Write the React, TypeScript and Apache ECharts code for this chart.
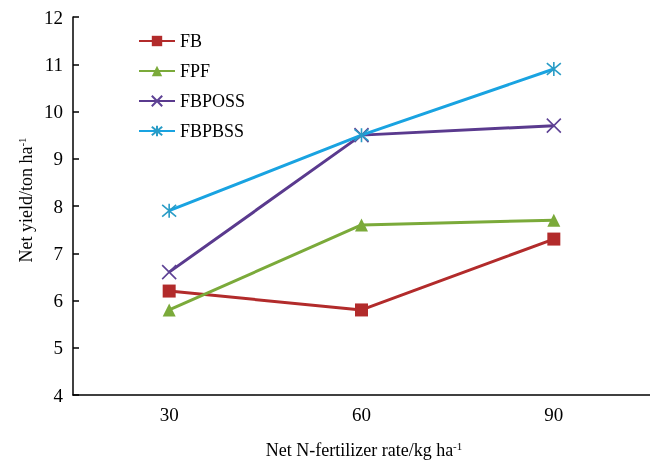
import React, { useEffect, useRef } from "react";
import * as echarts from "echarts";

const categories = ["30", "60", "90"];
const fb = [6.2, 5.8, 7.3];
const fpf = [5.8, 7.6, 7.7];
const fbposs = [6.6, 9.5, 9.7];
const fbpbss = [7.9, 9.5, 10.9];

const FONT = "'Liberation Serif', 'Times New Roman', Times, serif";
const X_SYM = "path://M0,0 L10,10 M10,0 L0,10";
const STAR_SYM = "path://M0,0 L10,10 M10,0 L0,10 M5,-1 L5,11";

export default function App() {
  const ref = useRef<HTMLDivElement>(null);
  useEffect(() => {
    if (!ref.current) return;
    document.body.style.margin = "0";
    document.body.style.overflow = "hidden";
    const chart = echarts.init(ref.current, undefined, { renderer: "svg" });
    const mk = (name: string, data: number[], color: string, symbol: string, size: number, markColor: string, stroke: boolean) => ({
      name,
      type: "line",
      data,
      symbol,
      symbolSize: size,
      showSymbol: true,
      lineStyle: { color, width: 3 },
      itemStyle: stroke
        ? { color: "rgba(0,0,0,0)", borderColor: markColor, borderWidth: 1.6 }
        : { color: markColor, borderWidth: 0 },
      emphasis: { disabled: true },
    });
    const rich = {
      a: { fontFamily: FONT, fontSize: 18, fill: "#000" },
      s: { fontFamily: FONT, fontSize: 11, fill: "#000", verticalAlign: "top", padding: [0, 0, 8, 0] },
    };
    chart.setOption({
      animation: false,
      textStyle: { fontFamily: FONT },
      grid: { left: 73, right: 0, top: 17, bottom: 66, containLabel: false },
      legend: {
        orient: "vertical",
        left: 133,
        top: 27,
        itemWidth: 36,
        itemHeight: 13,
        itemGap: 12,
        textStyle: { fontFamily: FONT, fontSize: 18, color: "#000" },
        data: ["FB", "FPF", "FBPOSS", "FBPBSS"],
      },
      xAxis: {
        type: "category",
        data: categories,
        boundaryGap: true,
        axisLine: { lineStyle: { color: "#000", width: 1.5 } },
        axisTick: { inside: true, alignWithLabel: true, length: 6, lineStyle: { color: "#000", width: 1.5 } },
        axisLabel: { fontFamily: FONT, fontSize: 19, color: "#000", margin: 10 },
        splitLine: { show: false },
      },
      yAxis: {
        type: "value",
        min: 4,
        max: 12,
        interval: 1,
        axisLine: { show: true, lineStyle: { color: "#000", width: 1.5 } },
        axisTick: { show: true, inside: true, length: 6, lineStyle: { color: "#000", width: 1.5 } },
        axisLabel: { fontFamily: FONT, fontSize: 19, color: "#000", margin: 10 },
        splitLine: { show: false },
      },
      graphic: [
        {
          type: "text",
          x: 26,
          y: 200,
          rotation: Math.PI / 2,
          style: {
            text: "{a|Net yield/ton ha}{s|-1}",
            align: "center",
            verticalAlign: "middle",
            rich,
          },
        },
        {
          type: "text",
          x: 364,
          y: 450,
          style: {
            text: "{a|Net N-fertilizer rate/kg ha}{s|-1}",
            align: "center",
            verticalAlign: "middle",
            rich,
          },
        },
      ],
      series: [
        mk("FB", fb, "#B22B2B", "rect", 13, "#B22B2B", false),
        mk("FPF", fpf, "#7BAA3A", "triangle", 13, "#7BAA3A", false),
        mk("FBPOSS", fbposs, "#5A3A8E", X_SYM, 14, "#5E4295", true),
        mk("FBPBSS", fbpbss, "#19A3E1", STAR_SYM, 14, "#2A9CC6", true),
      ],
    });
    return () => chart.dispose();
  }, []);
  return <div ref={ref} style={{ position: "fixed", left: 0, top: 0, width: 650, height: 461 }} />;
}
